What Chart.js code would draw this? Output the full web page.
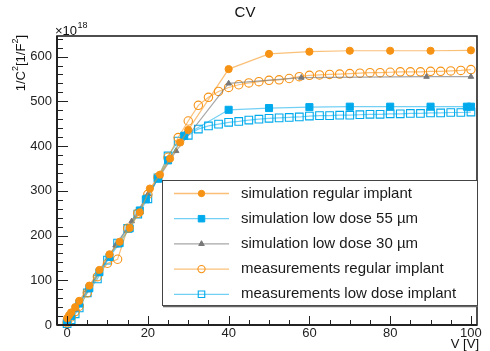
<!DOCTYPE html>
<html>
<head>
<meta charset="utf-8">
<script src="https://cdn.jsdelivr.net/npm/chart.js@4.4.0/dist/chart.umd.min.js"></script>
<style>
html, body { margin: 0; padding: 0; background: #fff; }
#wrap { width: 490px; height: 351px; }
</style>
</head>
<body>
<div id="wrap"><canvas id="cvChart" width="490" height="351"></canvas></div>
<script>
// axis tick labels
const xTicks = [0, 20, 40, 60, 80, 100];
const yTicks = [0, 100, 200, 300, 400, 500, 600];

// simulation regular implant
const simRegV = [0, 0.5, 1, 2, 3, 5.5, 8, 10.5, 13, 15.5, 18, 20.5, 23, 25.5, 28, 30, 40, 50, 60, 70, 80, 90, 100];
const simRegC = [15, 22, 28, 40, 54, 88, 123, 158, 186, 217, 252, 305, 336, 372, 408, 436, 572, 606, 611, 613, 613, 613, 614];

// simulation low dose 55 um
const simLow55V = [0, 1, 3, 5.5, 8, 10.5, 13, 15.5, 18, 19.5, 22.5, 25, 29, 40, 50, 60, 70, 80, 90, 99, 100];
const simLow55C = [8, 20, 48, 82, 118, 152, 183, 216, 256, 281, 327, 368, 423, 481, 485, 487, 488, 488, 488, 488, 488];

// simulation low dose 30 um
const simLow30V = [0, 2, 5, 8, 12, 16, 20, 23, 27, 40, 58, 89, 100];
const simLow30C = [10, 35, 78, 120, 178, 232, 292, 333, 389, 540, 553, 555, 555];

// measurements regular implant
const measRegV = [0, 1, 2, 3, 5, 7.5, 10, 12.5, 15, 17.5, 20, 22.5, 25, 27.5, 30, 32.5, 35, 37.5, 40,
  42.5, 45, 47.5, 50, 52.5, 55, 57.5, 60, 62.5, 65, 67.5, 70, 72.5, 75, 77.5, 80, 82.5, 85, 87.5, 90, 92.5, 95, 97.5, 100];
const measRegC = [5, 18, 30, 42, 72, 108, 138, 147, 216, 250, 292, 330, 375, 419, 456, 491, 509, 522, 531,
  537, 541, 544, 547, 548, 551, 555, 558, 559, 560, 561, 562, 563, 564, 564, 565, 566, 566, 566, 567, 567, 568, 569, 571];

// measurements low dose implant
const measLowV = [0, 1, 2, 3, 5, 7.5, 10, 12.5, 15, 17.5, 20, 22.5, 25, 27.5, 30, 32.5, 35, 37.5, 40,
  42.5, 45, 47.5, 50, 52.5, 55, 57.5, 60, 62.5, 65, 67.5, 70, 72.5, 75, 77.5, 80, 82.5, 85, 87.5, 90, 92.5, 95, 97.5, 100];
const measLowC = [3, 12, 25, 38, 72, 103, 145, 183, 216, 248, 282, 329, 378, 411, 424, 438, 445, 449, 453,
  455, 458, 460, 462, 463, 464, 465, 467, 468, 468, 469, 469, 470, 471, 471, 472, 472, 473, 473, 474, 474, 475, 475, 476];

const seriesLabels = [
  'simulation regular implant',
  'simulation low dose 55 \u00b5m',
  'simulation low dose 30 \u00b5m',
  'measurements regular implant',
  'measurements low dose implant'
];

const orange = 'rgb(246,146,20)';
const orangeLine = 'rgba(246,150,30,0.6)';
const blue = 'rgb(0,170,236)';
const blueLine = 'rgba(0,170,236,0.55)';
const grey = 'rgb(120,120,120)';
const greyLine = 'rgba(120,120,120,0.65)';

function pts(xs, ys) {
  return xs.map((v, i) => ({ x: v, y: ys[i] }));
}

const datasets = [
  { label: seriesLabels[0], data: pts(simRegV, simRegC), borderColor: orangeLine, backgroundColor: orange,
    pointBorderColor: orange, pointStyle: 'circle', pointRadius: 3.6, pointBorderWidth: 1 },
  { label: seriesLabels[1], data: pts(simLow55V, simLow55C), borderColor: blueLine, backgroundColor: blue,
    pointBorderColor: blue, pointStyle: 'rect', pointRadius: 5, pointBorderWidth: 1 },
  { label: seriesLabels[2], data: pts(simLow30V, simLow30C), borderColor: greyLine, backgroundColor: grey,
    pointBorderColor: grey, pointStyle: 'triangle', pointRadius: 3.2, pointBorderWidth: 1 },
  { label: seriesLabels[3], data: pts(measRegV, measRegC), borderColor: orangeLine, backgroundColor: 'rgba(0,0,0,0)',
    pointBorderColor: orange, pointStyle: 'circle', pointRadius: 4.2, pointBorderWidth: 1.1 },
  { label: seriesLabels[4], data: pts(measLowV, measLowC), borderColor: blueLine, backgroundColor: 'rgba(0,0,0,0)',
    pointBorderColor: blue, pointStyle: 'rect', pointRadius: 5.4, pointBorderWidth: 1.1 }
].map(d => Object.assign(d, { showLine: true, borderWidth: 1.2, tension: 0, clip: false, pointHoverRadius: d.pointRadius }));

// frame, inward ticks, titles and legend box
const rootStyle = {
  id: 'rootStyle',
  afterDatasetsDraw(chart) {
    const ctx = chart.ctx;
    const a = chart.chartArea;
    const xs = chart.scales.x, ys = chart.scales.y;
    ctx.save();
    ctx.strokeStyle = '#222';
    ctx.lineWidth = 1;
    ctx.beginPath();
    // minor + major ticks
    for (let v = 0; v <= 100; v += 5) {
      const px = Math.round(xs.getPixelForValue(v)) + 0.5;
      const len = v % 20 === 0 ? 9 : 5;
      ctx.moveTo(px, a.bottom); ctx.lineTo(px, a.bottom - len);
    }
    for (let v = 0; v <= 640; v += 20) {
      const py = Math.round(ys.getPixelForValue(v)) + 0.5;
      const len = v % 100 === 0 ? 11 : 6;
      ctx.moveTo(a.left, py); ctx.lineTo(a.left + len, py);
    }
    ctx.stroke();
    ctx.lineWidth = 1.6;
    ctx.strokeRect(a.left, a.top, a.right - a.left, a.bottom - a.top);
    ctx.lineWidth = 2;
    ctx.beginPath();
    ctx.moveTo(a.left, a.top); ctx.lineTo(a.left, a.bottom);
    ctx.moveTo(a.left, a.bottom); ctx.lineTo(a.right, a.bottom);
    ctx.stroke();

    // title
    ctx.fillStyle = '#111';
    ctx.font = '15px "Liberation Sans", Arial, sans-serif';
    ctx.textAlign = 'center';
    ctx.textBaseline = 'middle';
    ctx.fillText('CV', 245, 13);

    // x axis title
    ctx.font = '13px "Liberation Sans", Arial, sans-serif';
    ctx.textAlign = 'right';
    ctx.fillText('V [V]', 479, 344);

    // exponent
    ctx.textAlign = 'left';
    ctx.font = '13px "Liberation Sans", Arial, sans-serif';
    ctx.fillText('\u00d710', 55, 31);
    const w10 = ctx.measureText('\u00d710').width;
    ctx.font = '9px "Liberation Sans", Arial, sans-serif';
    ctx.fillText('18', 55 + w10 + 0.5, 26);

    // y axis title
    const parts = [['1/C', 0], ['2', 1], ['[1/F', 0], ['2', 1], [']', 0]];
    const fontN = '13px "Liberation Sans", Arial, sans-serif';
    const fontS = '9px "Liberation Sans", Arial, sans-serif';
    let total = 0;
    parts.forEach(p => { ctx.font = p[1] ? fontS : fontN; total += ctx.measureText(p[0]).width; });
    ctx.translate(21, 35);
    ctx.rotate(-Math.PI / 2);
    let cx = -total;
    parts.forEach(p => {
      ctx.font = p[1] ? fontS : fontN;
      ctx.fillText(p[0], cx, p[1] ? -5 : 0);
      cx += ctx.measureText(p[0]).width;
    });
    ctx.restore();

    // legend
    ctx.save();
    const lx = 162, ly = 180, lw = 316, lh = 126;
    ctx.fillStyle = '#fff';
    ctx.fillRect(lx, ly, lw, lh);
    ctx.strokeStyle = '#444';
    ctx.lineWidth = 1;
    ctx.strokeRect(lx + 0.5, ly + 0.5, lw - 1, lh - 1);
    ctx.strokeStyle = '#666';
    ctx.lineWidth = 1.5;
    ctx.beginPath();
    ctx.moveTo(lx + 1, ly + lh + 0.5); ctx.lineTo(lx + lw, ly + lh + 0.5);
    ctx.stroke();
    chart.data.datasets.forEach((d, i) => {
      const y = 193.5 + i * 25.2;
      ctx.strokeStyle = d.borderColor;
      ctx.lineWidth = 1.3;
      ctx.beginPath();
      ctx.moveTo(174, y); ctx.lineTo(229, y);
      ctx.stroke();
      ctx.fillStyle = d.backgroundColor;
      ctx.strokeStyle = d.pointBorderColor;
      ctx.lineWidth = d.pointBorderWidth;
      const r = d.pointStyle === 'rect' ? 4.6 : (d.pointRadius > 4 ? 3.6 : 3.2);
      Chart.helpers.drawPoint(ctx, { pointStyle: d.pointStyle, radius: r, rotation: 0, borderWidth: d.pointBorderWidth }, 201.5, y);
      ctx.fillStyle = '#1a1a1a';
      ctx.font = '15px "Liberation Sans", Arial, sans-serif';
      ctx.textAlign = 'left';
      ctx.textBaseline = 'middle';
      ctx.fillText(d.label, 241, y);
    });
    ctx.restore();
  }
};

new Chart(document.getElementById('cvChart'), {
  type: 'scatter',
  data: { datasets: datasets },
  options: {
    responsive: false,
    devicePixelRatio: 1,
    animation: false,
    layout: { padding: { left: 0, right: 13, top: 36, bottom: 0 } },
    plugins: { legend: { display: false }, title: { display: false }, tooltip: { enabled: false } },
    scales: {
      x: {
        type: 'linear', min: -2.5, max: 101.5,
        grid: { display: false, drawTicks: false },
        border: { display: false },
        afterBuildTicks: (axis) => { axis.ticks = xTicks.map(v => ({ value: v })); },
        afterFit: (axis) => { axis.height = 26; },
        ticks: { padding: 1, color: '#222', maxRotation: 0, autoSkip: false,
          font: { family: '"Liberation Sans", Arial, sans-serif', size: 13 } }
      },
      y: {
        type: 'linear', min: 0, max: 646,
        grid: { display: false, drawTicks: false },
        border: { display: false },
        afterBuildTicks: (axis) => { axis.ticks = yTicks.map(v => ({ value: v })); },
        afterFit: (axis) => { axis.width = 57; },
        ticks: { padding: 5, color: '#222', autoSkip: false,
          font: { family: '"Liberation Sans", Arial, sans-serif', size: 13 } }
      }
    }
  },
  plugins: [rootStyle]
});
</script>
</body>
</html>
